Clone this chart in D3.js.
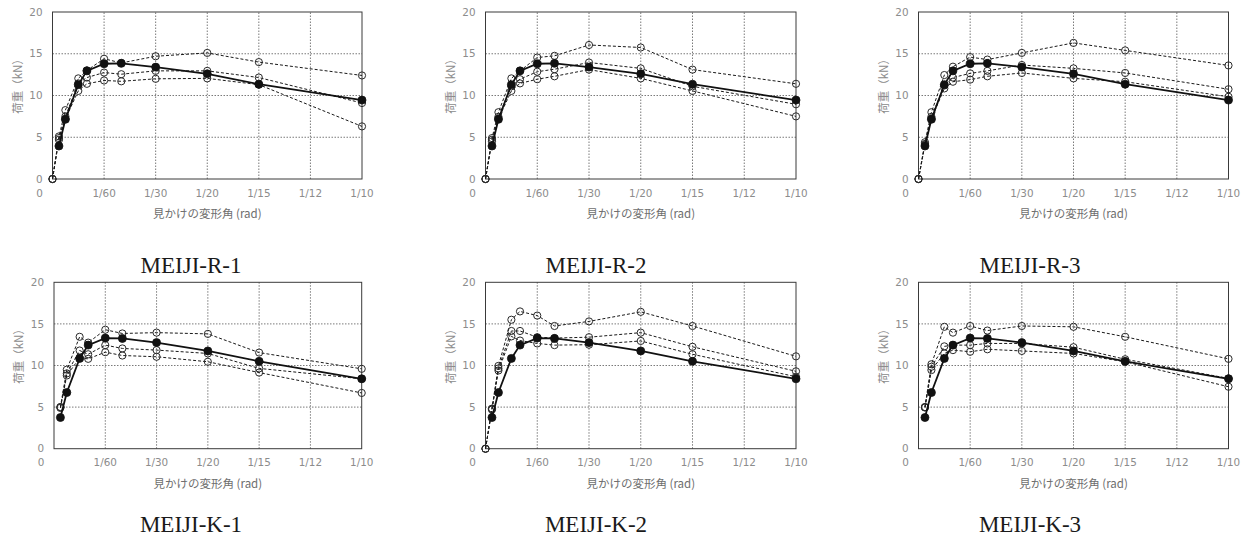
<!DOCTYPE html>
<html><head><meta charset="utf-8">
<script src="https://cdn.jsdelivr.net/npm/d3@7"></script>
<style>
html,body{margin:0;padding:0;background:#fff;}
svg{display:block;}
</style></head>
<body>
<svg id="c" width="1250" height="537"></svg>
<script>
// ---------- DATA ----------
const driftSteps = [1/480, 1/240, 1/120, 1/90, 1/60, 1/45, 1/30, 1/20, 1/15, 1/10];
const xTickValues = [0, 1/60, 2/60, 3/60, 4/60, 5/60, 6/60];
const xTickLabels = ["0", "1/60", "1/30", "1/20", "1/15", "1/12", "1/10"];
const yTickValues = [0, 5, 10, 15, 20];
const panelTitles = ["MEIJI-R-1", "MEIJI-R-2", "MEIJI-R-3", "MEIJI-K-1", "MEIJI-K-2", "MEIJI-K-3"];
const xAxisTitle = "見かけの変形角 (rad)";
const yAxisTitle = "荷重（kN）";

// solid reference curves (shared by each row)
const solidR = [3.95, 7.15, 11.3, 12.95, 13.8, 13.85, 13.4, 12.6, 11.35, 9.45];
const solidK = [3.75, 6.75, 10.85, 12.45, 13.3, 13.25, 12.75, 11.75, 10.5, 8.4];

// dashed specimen curves; series with 11 values start at drift 0
const r1A = [0, 5.1, 8.25, 12.05, 13.0, 14.4, 13.9, 14.7, 15.1, 14.0, 12.4];
const r1B = [0, 4.9, 7.5, 11.45, 12.15, 12.75, 12.55, 12.95, 12.95, 12.15, 9.1];
const r1C = [0, 4.7, 7.2, 10.55, 11.4, 11.8, 11.7, 12.0, 12.05, 11.3, 6.3];

const r2A = [0, 4.9, 8.0, 12.05, 12.95, 14.55, 14.75, 16.05, 15.75, 13.1, 11.4];
const r2B = [0, 4.7, 7.45, 11.1, 11.95, 12.85, 13.15, 13.95, 13.25, 11.1, 8.95];
const r2C = [0, 4.5, 7.2, 10.55, 11.45, 11.95, 12.3, 13.1, 12.05, 10.55, 7.5];

const r3A = [0, 4.4, 8.0, 12.45, 13.45, 14.6, 14.3, 15.1, 16.3, 15.4, 13.6];
const r3B = [0, 4.2, 7.45, 11.2, 12.15, 12.65, 12.95, 13.65, 13.25, 12.7, 10.75];
const r3C = [0, 4.1, 7.2, 10.85, 11.65, 11.9, 12.3, 12.7, 12.05, 11.65, 9.85];

const k1A = [5.0, 9.5, 13.45, 12.75, 14.3, 13.85, 13.95, 13.8, 11.55, 9.6];
const k1B = [5.0, 9.05, 11.8, 11.35, 12.45, 12.05, 11.85, 11.45, 9.65, 8.4];
const k1C = [4.9, 8.8, 10.9, 10.8, 11.6, 11.2, 11.05, 10.45, 9.15, 6.7];

const k2A = [0, 4.8, 9.95, 15.5, 16.5, 16.0, 14.75, 15.3, 16.45, 14.75, 11.1];
const k2B = [0, 4.8, 9.65, 14.15, 14.15, 13.4, 13.3, 13.4, 13.95, 12.25, 9.3];
const k2C = [0, 4.7, 9.4, 13.5, 13.0, 12.65, 12.45, 12.5, 12.95, 11.35, 8.65];

const k3A = [5.0, 10.15, 14.65, 13.95, 14.75, 14.2, 14.75, 14.65, 13.45, 10.8];
const k3B = [5.0, 9.85, 12.3, 12.45, 12.45, 12.65, 12.65, 12.2, 10.75, 8.45];
const k3C = [4.95, 9.45, 11.45, 11.85, 11.65, 11.95, 11.75, 11.45, 10.45, 7.45];

const panelDashed = [[r1A, r1B, r1C], [r2A, r2B, r2C], [r3A, r3B, r3C], [k1A, k1B, k1C], [k2A, k2B, k2C], [k3A, k3B, k3C]];
const panelSolid = [solidR, solidR, solidR, solidK, solidK, solidK];

// ---------- LAYOUT ----------
const layout = [
  {l: 52.5, r: 362, t: 12, b: 179, titleX: 191, titleY: 265},
  {l: 485.5, r: 796, t: 12, b: 179, titleX: 596, titleY: 265},
  {l: 918.5, r: 1228.5, t: 12, b: 179, titleX: 1030, titleY: 265},
  {l: 54, r: 361.7, t: 282.3, b: 448.7, titleX: 191, titleY: 523.5},
  {l: 485.5, r: 796, t: 282.3, b: 448.7, titleX: 596, titleY: 523.5},
  {l: 918.5, r: 1228.5, t: 282.3, b: 448.7, titleX: 1030, titleY: 523.5}
];

const svg = d3.select("#c");
const tickFont = "'DejaVu Sans', Verdana, sans-serif";
const cjkFont = "'Noto Sans CJK JP', 'Noto Sans', sans-serif";

function toPoints(vals) {
  const xs = vals.length === driftSteps.length + 1 ? [0, ...driftSteps] : driftSteps;
  return vals.map((v, i) => [xs[i], v]);
}

layout.forEach((L, pi) => {
  const x = d3.scaleLinear().domain([0, 0.1]).range([L.l, L.r]);
  const y = d3.scaleLinear().domain([0, 20]).range([L.b, L.t]);
  const g = svg.append("g");

  // grid
  g.append("g").selectAll("line.vg").data(xTickValues.slice(1, -1)).join("line")
    .attr("x1", d => x(d)).attr("x2", d => x(d)).attr("y1", y(0)).attr("y2", y(20))
    .attr("stroke", "#7a7a7a").attr("stroke-width", 1).attr("stroke-dasharray", "1.5,1.5");
  g.append("g").selectAll("line.hg").data(yTickValues.slice(1, -1)).join("line")
    .attr("x1", x(0)).attr("x2", x(0.1)).attr("y1", d => y(d)).attr("y2", d => y(d))
    .attr("stroke", "#7a7a7a").attr("stroke-width", 1).attr("stroke-dasharray", "1.5,1.5");

  // frame
  g.append("rect").attr("x", x(0)).attr("y", y(20)).attr("width", x(0.1) - x(0)).attr("height", y(0) - y(20))
    .attr("fill", "none").attr("stroke", "#3a3a3a").attr("stroke-width", 1);

  // y tick labels
  g.append("g").selectAll("text").data(yTickValues).join("text")
    .attr("x", x(0) - 10).attr("y", d => y(d)).attr("dy", "0.35em").attr("text-anchor", "end")
    .attr("font-family", tickFont).attr("font-size", 10.4).attr("fill", "#8c8c8c").text(d => d);

  // x tick labels
  g.append("g").selectAll("text").data(xTickValues).join("text")
    .attr("x", (d, i) => i === 0 ? x(d) - 13 : x(d)).attr("y", y(0) + 14).attr("dy", "0.35em")
    .attr("text-anchor", "middle")
    .attr("font-family", tickFont).attr("font-size", 10.4).attr("fill", "#8c8c8c")
    .text((d, i) => xTickLabels[i]);

  // axis titles
  g.append("text").attr("x", (x(0) + x(0.1)) / 2).attr("y", y(0) + 35).attr("dy", "0.35em")
    .attr("text-anchor", "middle").attr("font-family", cjkFont).attr("font-size", 11.5)
    .attr("fill", "#6e6e6e").text(xAxisTitle);
  g.append("text").attr("transform", `translate(${x(0) - 35},${(y(0) + y(20)) / 2 - 12}) rotate(-90)`)
    .attr("dy", "0.35em").attr("text-anchor", "middle").attr("font-family", cjkFont).attr("font-size", 11.5)
    .attr("fill", "#8c8c8c").text(yAxisTitle);

  // panel title
  g.append("text").attr("x", L.titleX).attr("y", L.titleY).attr("dy", "0.35em").attr("text-anchor", "middle")
    .attr("font-family", "'Liberation Serif', 'Times New Roman', serif").attr("font-size", 23)
    .attr("fill", "#1a1a1a").text(panelTitles[pi]);

  const line = d3.line().x(d => x(d[0])).y(d => y(d[1]));

  // dashed series
  panelDashed[pi].forEach(s => {
    const pts = toPoints(s);
    g.append("path").datum(pts).attr("d", line).attr("fill", "none")
      .attr("stroke", "#1a1a1a").attr("stroke-width", 1).attr("stroke-dasharray", "3,2");
    g.append("g").selectAll("circle").data(pts).join("circle")
      .attr("cx", d => x(d[0])).attr("cy", d => y(d[1])).attr("r", 3.6)
      .attr("fill", "none").attr("stroke", "#2a2a2a").attr("stroke-width", 1);
  });

  // solid series
  const sp = toPoints(panelSolid[pi]);
  g.append("path").datum(sp).attr("d", line).attr("fill", "none")
    .attr("stroke", "#111").attr("stroke-width", 1.8);
  g.append("g").selectAll("circle").data(sp).join("circle")
    .attr("cx", d => x(d[0])).attr("cy", d => y(d[1])).attr("r", 4)
    .attr("fill", "#111").attr("stroke", "#111").attr("stroke-width", 0.8);
});
</script>
</body></html>
